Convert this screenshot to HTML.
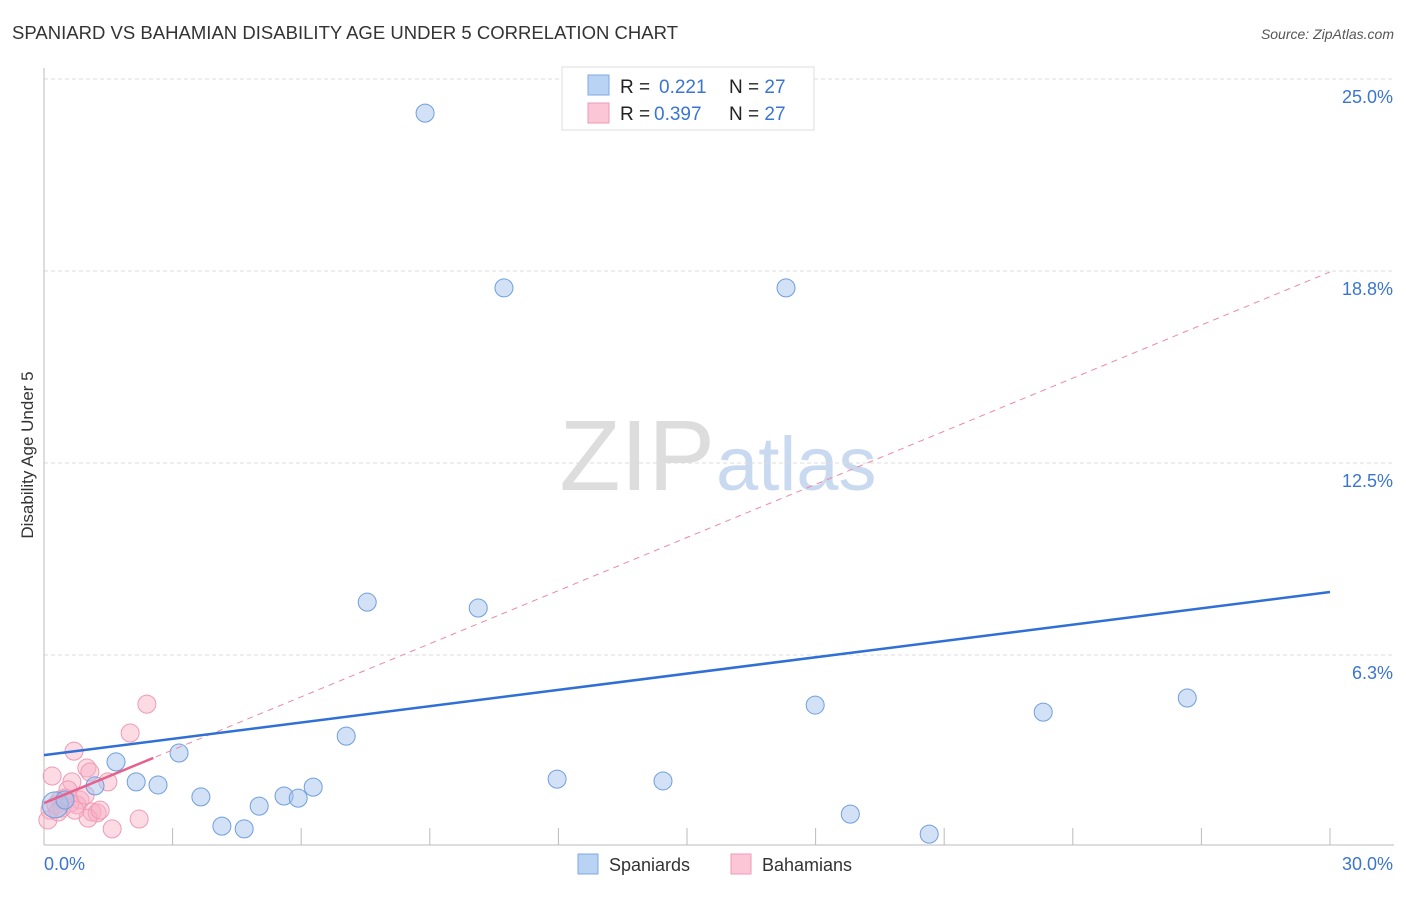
<!DOCTYPE html>
<html><head><meta charset="utf-8"><style>
body{margin:0;background:#fff;font-family:"Liberation Sans",sans-serif;}
svg text{font-family:"Liberation Sans",sans-serif;}
</style></head><body>
<svg id="chart" width="1406" height="892">
<text x="12" y="39" font-size="18.5" fill="#333" textLength="666">SPANIARD VS BAHAMIAN DISABILITY AGE UNDER 5 CORRELATION CHART</text>
<text x="1394" y="39" font-size="14" fill="#555" font-style="italic" text-anchor="end">Source: ZipAtlas.com</text>
<text x="715" y="490" font-size="100" fill="#ddd" text-anchor="end" font-family="Liberation Serif">ZIP</text>
<text x="716" y="490" font-size="76" fill="#c9daf0">atlas</text>
<g id="grid"></g><g id="axes"></g><g id="marks"></g>
<text transform="translate(33,455) rotate(-90)" font-size="17" fill="#333" text-anchor="middle">Disability Age Under 5</text>
<g>
<rect x="562" y="67" width="252" height="63" fill="#fff" stroke="#ddd"/>
<rect x="588" y="75" width="21" height="20" fill="#b9d3f4" stroke="#7fa9e0"/>
<rect x="588" y="103" width="21" height="20" fill="#fbc6d6" stroke="#ef9ab4"/>
<text x="620" y="93" font-size="19" fill="#222">R =<tspan x="659" fill="#3b75d0">0.221</tspan><tspan x="729" fill="#222">N = </tspan><tspan fill="#3b75d0">27</tspan></text>
<text x="620" y="120" font-size="19" fill="#222">R =<tspan x="654" fill="#3b75d0">0.397</tspan><tspan x="729" fill="#222">N = </tspan><tspan fill="#3b75d0">27</tspan></text>
</g>
<g>
<rect x="578" y="854" width="20" height="20" fill="#b9d3f4" stroke="#7fa9e0"/>
<text x="609" y="871" font-size="18" fill="#333">Spaniards</text>
<rect x="731" y="854" width="20" height="20" fill="#fbc6d6" stroke="#ef9ab4"/>
<text x="762" y="871" font-size="18" fill="#333">Bahamians</text>
</g>
</svg>
<script>
const yTicks=[6.25,12.5,18.75,25];
const yTickLabels=["6.3%","12.5%","18.8%","25.0%"];
const xTicks=[3,6,9,12,15,18,21,24,27,30];
const blueX=[8.89,10.73,17.31,7.54,10.13,1.68,3.15,7.05,2.15,2.66,1.19,3.66,4.15,4.67,5.02,5.60,5.93,6.28,11.97,14.44,17.99,18.81,20.65,23.31,26.67,0.26,0.49];
const blueY=[23.89,18.20,18.20,7.97,7.78,2.77,3.06,3.61,2.12,2.02,1.99,1.63,0.68,0.59,1.33,1.66,1.59,1.95,2.21,2.15,4.62,1.07,0.42,4.39,4.85,1.37,1.53];
const pinkX=[2.40,2.01,0.70,0.19,1.00,0.65,1.07,1.49,0.56,0.37,0.84,0.14,0.28,0.42,0.77,1.12,1.24,1.03,1.59,2.22,0.09,0.49,0.96,0.61,0.72,1.31,0.33];
const pinkY=[4.65,3.71,3.12,2.31,2.57,2.12,2.44,2.12,1.86,1.53,1.53,1.20,1.37,1.27,1.37,1.14,1.11,0.94,0.59,0.91,0.88,1.59,1.69,1.43,1.20,1.20,1.14];
const blueTrend=[2.99,8.30];
const pinkTrend=[1.43,18.72];
const X0=44,X1=1330,Y0=847,Y25=79;
const sx=v=>X0+(X1-X0)*v/30;
const sy=v=>Y0-(Y0-Y25)*v/25;
const NS="http://www.w3.org/2000/svg";
function mk(p,t,a){const e=document.createElementNS(NS,t);for(const k in a)e.setAttribute(k,a[k]);document.getElementById(p).appendChild(e);return e;}
yTicks.forEach((v,i)=>{
 const g=mk('grid','line',{x1:44,x2:1394,y1:sy(v),y2:sy(v),stroke:'#ddd','stroke-dasharray':'4,3'});
 
 
 const t=mk('grid','text',{x:1393,y:sy(v)+24,'font-size':18,fill:'#3b75d0','text-anchor':'end'});
 t.textContent=yTickLabels[i];
 
 
});
const ax=mk('axes','line',{x1:44,x2:44,y1:68,y2:845,stroke:'#bbb'});


const bx=mk('axes','line',{x1:44,x2:1394,y1:845,y2:845,stroke:'#bbb'});


xTicks.forEach(v=>{
 const l=mk('axes','line',{x1:sx(v),x2:sx(v),y1:828,y2:845,stroke:'#bbb'});
 
 
});
const xl0=mk('axes','text',{x:44,y:870,'font-size':18,fill:'#3b75d0'});xl0.textContent='0.0%';


const xl1=mk('axes','text',{x:1393,y:870,'font-size':18,fill:'#3b75d0','text-anchor':'end'});xl1.textContent='30.0%';


pinkX.forEach((x,i)=>{
 const c=mk('marks','circle',{cx:sx(x),cy:sy(pinkY[i]),r:9,fill:'rgba(248,175,198,0.45)',stroke:'#ee9bb5','stroke-width':1});
 
 
});
blueX.forEach((x,i)=>{
 const c=mk('marks','circle',{cx:sx(x),cy:sy(blueY[i]),r:(i==25?13:9),fill:'rgba(165,196,238,0.5)',stroke:'#6f9fdc','stroke-width':1});
 
 
});
const pd=mk('marks','line',{x1:sx(0),y1:sy(pinkTrend[0]),x2:sx(30),y2:sy(pinkTrend[1]),stroke:'#e989a8','stroke-width':1,'stroke-dasharray':'6,5'});


const px2=2.55;
const ps=mk('marks','line',{x1:sx(0),y1:sy(pinkTrend[0]),x2:sx(px2),y2:sy(pinkTrend[0]+(pinkTrend[1]-pinkTrend[0])*px2/30),stroke:'#e6628e','stroke-width':2.5});


const bl=mk('marks','line',{x1:sx(0),y1:sy(blueTrend[0]),x2:sx(30),y2:sy(blueTrend[1]),stroke:'#2f6fd6','stroke-width':2.5});


</script>
</body></html>
